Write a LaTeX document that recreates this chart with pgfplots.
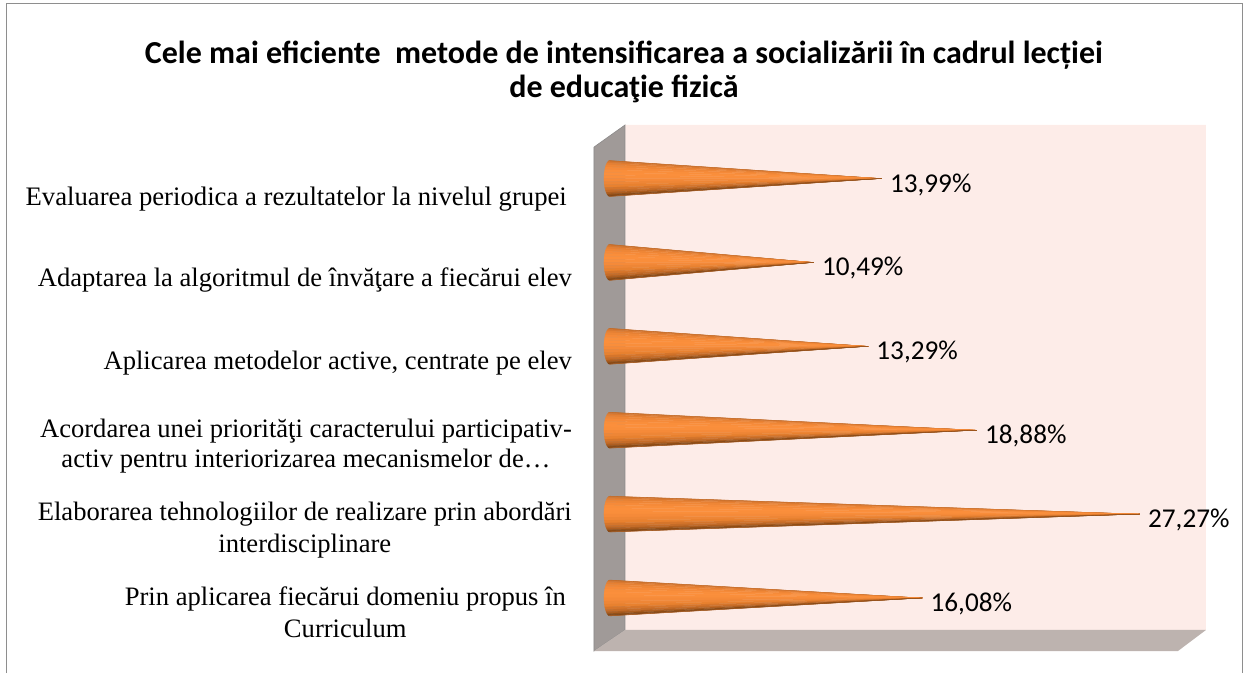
\documentclass[border=0pt]{standalone}
\usepackage{pgfplots}
\pgfplotsset{compat=1.18}
\usepackage{fontspec}
\setmainfont{Liberation Serif}
\newfontfamily\calibri{Carlito}
\definecolor{c1}{HTML}{C06A28}
\definecolor{c2}{HTML}{C96F2A}
\definecolor{c3}{HTML}{D87830}
\definecolor{c4}{HTML}{E58033}
\definecolor{c5}{HTML}{EE8636}
\definecolor{c6}{HTML}{F58A39}
\definecolor{c7}{HTML}{F98E3B}
\definecolor{c8}{HTML}{FB8F3C}
\definecolor{c9}{HTML}{F98E3B}
\definecolor{c10}{HTML}{F58A39}
\definecolor{c11}{HTML}{EE8636}
\definecolor{c12}{HTML}{E8812F}
\definecolor{c13}{HTML}{D5752B}
\definecolor{c14}{HTML}{C56C28}
\definecolor{c15}{HTML}{AE5E20}
\definecolor{c16}{HTML}{935018}
\definecolor{c17}{HTML}{7F4414}
\definecolor{c18}{HTML}{A65C22}
% one cone: #1 = category position, #2 = value
\newcommand\cone[2]{%
  \foreach \i in {1,...,18}{%
    \pgfmathsetmacro\aa{100-10*\i}%
    \pgfmathsetmacro\ab{90-10*\i}%
    \pgfmathsetmacro\xa{-0.31*cos(\aa)}%
    \pgfmathsetmacro\xb{-0.31*cos(\ab)}%
    \pgfmathsetmacro\ya{#1+0.2145*sin(\aa)}%
    \pgfmathsetmacro\yb{#1+0.2145*sin(\ab)}%
    \edef\tmp{\noexpand\addplot[fill=c\i,draw=c\i,line width=0.25pt,mark=none,forget plot]
      coordinates {(\xa,\ya) (\xb,\yb) (#2,#1) (\xa,\ya)};}%
    \tmp
  }%
}
\begin{document}
\begin{tikzpicture}
\useasboundingbox (-594pt,-22pt) rectangle (649pt,651pt);
\begin{axis}[
  scale only axis, width=612pt, height=526pt,
  clip=false,
  xmin=-0.823, xmax=30.67, ymin=-0.632, ymax=5.638,
  axis line style={draw=none},
  xtick=\empty,
  major tick length=0pt,
  ytick={-0.167,0.81,1.81,2.795,3.795,4.755},
  yticklabels={
    {Prin aplicarea fiecărui domeniu propus în\hspace*{6pt}\\Curriculum\hspace*{6pt}},
    {Elaborarea tehnologiilor de realizare prin abordări\\interdisciplinare},
    {Acordarea unei priorităţi caracterului participativ-\\[-2pt]activ pentru interiorizarea mecanismelor de…},
    {Aplicarea metodelor active, centrate pe elev},
    {Adaptarea la algoritmul de învăţare a fiecărui elev},
    {\fontsize{26.7}{32}\selectfont Evaluarea periodica a rezultatelor la nivelul grupei\hspace*{5pt}}},
  yticklabel style={font=\fontsize{26.6}{32}\selectfont,align=center,anchor=east},
  tick label style={inner sep=0pt},
  y tick label style={xshift=-22pt},
  title={Cele mai eficiente\ \ metode de intensificarea a socializării în cadrul lecției\\de educaţie fizică},
  title style={at={(axis description cs:0.049,1.09)},anchor=center,align=center,
    font=\calibri\bfseries\fontsize{32}{34}\selectfont},
]
% walls
\addplot[fill={rgb,255:red,253;green,236;blue,232},draw=none,mark=none,forget plot]
  coordinates {(0.772,-0.381) (30.67,-0.381) (30.67,5.638) (0.772,5.638) (0.772,-0.381)};
\addplot[fill={rgb,255:red,160;green,154;blue,152},draw={rgb,255:red,140;green,138;blue,138},line width=0.6pt,mark=none,forget plot]
  coordinates {(-0.823,5.375) (0.772,5.638) (0.772,-0.381) (-0.823,-0.632) (-0.823,5.375)};
\addplot[fill={rgb,255:red,189;green,179;blue,175},draw=none,mark=none,forget plot]
  coordinates {(-0.823,-0.632) (0.772,-0.381) (30.67,-0.381) (29.23,-0.632) (-0.823,-0.632)};
% cones
\cone{5}{13.99}
\cone{4}{10.49}
\cone{3}{13.29}
\cone{2}{18.88}
\cone{1}{27.27}
\cone{0}{16.08}
% data labels
\addplot[draw=none,mark=none,forget plot,
  nodes near coords={\pgfplotspointmeta\%},
  point meta=explicit symbolic,
  nodes near coords style={anchor=west,xshift=8pt,yshift=-6pt,inner sep=0pt,text=black,
    font=\calibri\fontsize{27.2}{30}\selectfont}]
  table[x=v,y=c,meta=t] {
v c t
13.99 5 13,99
10.49 4 10,49
13.29 3 13,29
18.88 2 18,88
27.27 1 27,27
16.08 0 16,08
};
\end{axis}
% frame of the chart
\draw[color={rgb,255:red,142;green,142;blue,142},line width=1pt]
  (-587pt,-22pt) -- (-587pt,647pt) -- (648pt,647pt) -- (648pt,-22pt);
\end{tikzpicture}
\end{document}
